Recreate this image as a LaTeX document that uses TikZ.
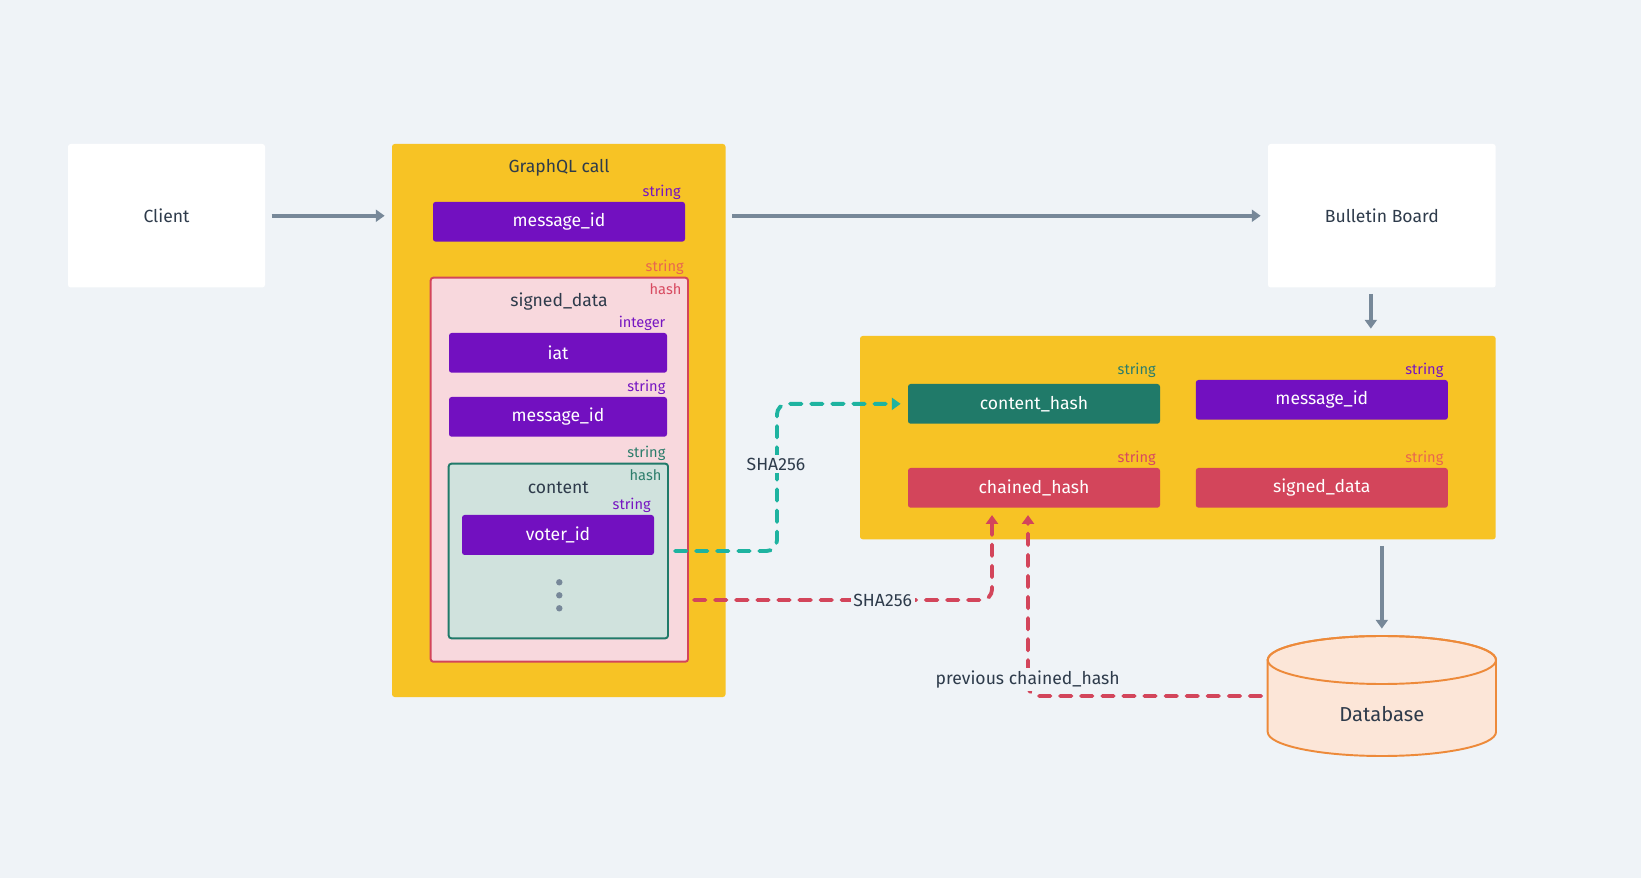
\documentclass[tikz,border=0pt]{standalone}
\usepackage{fontspec}
\setmainfont{Fira Sans}
\usetikzlibrary{arrows.meta}

\definecolor{bgcol}{HTML}{EFF3F7}
\definecolor{gold}{HTML}{F7C325}
\definecolor{ink}{HTML}{2E3B4B}
\definecolor{slate}{HTML}{778899}
\definecolor{fieldpurple}{HTML}{7210C0}
\definecolor{tealbar}{HTML}{207A69}
\definecolor{redbar}{HTML}{D3455B}
\definecolor{signedfill}{HTML}{F8D8DD}
\definecolor{contentfill}{HTML}{D0E2DD}
\definecolor{tealdash}{HTML}{1EB3A0}
\definecolor{dbfill}{HTML}{FCE6D8}
\definecolor{dbline}{HTML}{ED8A3A}
\definecolor{tagpurple}{HTML}{7615C2}
\definecolor{tagorange}{HTML}{E8674F}
\definecolor{tagred}{HTML}{D84A60}
\definecolor{taggreen}{HTML}{2C7D6B}

\newcommand{\pxl}{0.02cm}
\newcommand{\fsmain}{\fontsize{10}{12}\selectfont}
\newcommand{\fstag}{\fontsize{8.3}{10}\selectfont}
\newcommand{\fsdb}{\fontsize{11.5}{14}\selectfont}

\tikzset{
  box/.style={fill=white, rounded corners=1.5pt, inner sep=0pt, text=ink, font=\fsmain},
  panel/.style={fill=gold, rounded corners=1.5pt, inner sep=0pt},
  signedbox/.style={fill=signedfill, draw=redbar, line width=1.1pt, rounded corners=1.5pt, inner sep=0pt},
  contentbox/.style={fill=contentfill, draw=tealbar, line width=1.1pt, rounded corners=1.5pt, inner sep=0pt},
  field/.style={fill=fieldpurple, text=white, rounded corners=1.5pt, inner sep=0pt,
    minimum width=252*\pxl, minimum height=39.7*\pxl, font=\fsmain},
  tag/.style={anchor=east, inner sep=0pt, font=\fstag},
  title/.style={text=ink, inner sep=0pt, font=\fsmain},
  flow/.style={draw=slate, line width=2.2pt, shorten <=3.5pt, shorten >=4pt},
  hashline/.style={line width=2.2pt, dash pattern=on 6.5pt off 5.5pt, line cap=round, rounded corners=6pt},
  hashlabel/.style={fill=bgcol, text=ink, inner sep=1.5pt, font=\fsmain},
}

\begin{document}
\begin{tikzpicture}[x=\pxl, y=-\pxl, >={Triangle[length=5pt,width=6.8pt]}]
  % background
  \fill[bgcol] (0,0) rectangle (1641,878);
  \useasboundingbox (0,0) rectangle (1641,878);

  % -- Client
  \node[box, minimum width=197*\pxl, minimum height=143.5*\pxl] (client) at (166.5,215.75) {Client};

  % -- GraphQL call
  \node[panel, minimum width=333.5*\pxl, minimum height=553*\pxl] (gql) at (558.75,420.5) {};
  \node[title] (gqltitle) at (559,168) {GraphQL call};
  \node[tag, text=tagpurple] (gqlidtype) at (681,192) {string};
  \node[field] (gqlid) at (559,221.75) {message\_id};

  % signed_data
  \node[tag, text=tagorange] (signedtype) at (684,267) {string};
  \node[signedbox, minimum width=257.3*\pxl, minimum height=384*\pxl] (signed) at (559.35,469.7) {};
  \node[tag, text=tagred] (signedhash) at (681.7,289) {hash};
  \node[title] (signedtitle) at (559,302) {signed\_data};
  \node[tag, text=tagpurple] (iattype) at (665.7,323) {integer};
  \node[field, minimum width=218*\pxl] (iat) at (558,352.85) {iat};
  \node[tag, text=tagpurple] (sdidtype) at (665.7,387) {string};
  \node[field, minimum width=218*\pxl] (sdid) at (558,416.85) {message\_id};

  % content
  \node[tag, text=taggreen] (contenttype) at (665.7,453) {string};
  \node[contentbox, minimum width=219.3*\pxl, minimum height=174.6*\pxl] (content) at (558.35,551) {};
  \node[tag, text=taggreen] (contenthash) at (661.7,474.7) {hash};
  \node[title] (contenttitle) at (558.3,488) {content};
  \node[tag, text=tagpurple] (votertype) at (651,505) {string};
  \node[field, minimum width=192*\pxl, minimum height=40*\pxl] (voter) at (558,535) {voter\_id};
  \foreach \y in {582.3,595.3,608.3}
    \fill[slate] (559.3,\y) circle (3.2);

  % -- Bulletin Board
  \node[box, minimum width=227.7*\pxl, minimum height=143.5*\pxl] (bb) at (1381.85,215.75) {Bulletin Board};

  % stored record
  \node[panel, minimum width=635.7*\pxl, minimum height=203.3*\pxl] (store) at (1177.85,437.65) {};
  \node[tag, text=taggreen] (chashtype) at (1156,370) {string};
  \node[field, fill=tealbar] (chash) at (1034,403.85) {content\_hash};
  \node[tag, text=tagpurple] (bbidtype) at (1443.7,370) {string};
  \node[field] (bbid) at (1321.85,399.85) {message\_id};
  \node[tag, text=tagred] (chaintype) at (1156,458) {string};
  \node[field, fill=redbar] (chain) at (1034,487.85) {chained\_hash};
  \node[tag, text=tagorange] (bbsdtype) at (1443.7,458) {string};
  \node[field, fill=redbar] (bbsd) at (1321.85,487.85) {signed\_data};

  % -- Database
  \filldraw[fill=dbfill, draw=dbline, line width=1.1pt]
    (1267.7,660) -- (1267.7,732)
    arc[start angle=180, end angle=0, x radius=114.15, y radius=24]
    -- (1496,660)
    arc[start angle=0, end angle=-180, x radius=114.15, y radius=24] -- cycle;
  \draw[draw=dbline, line width=1.1pt] (1381.85,660) ellipse [x radius=114.15, y radius=24];
  \node[text=ink, font=\fsdb, inner sep=0pt, minimum width=228.3*\pxl, minimum height=120*\pxl] (db) at (1381.85,696) {};
  \node[text=ink, font=\fsdb, inner sep=0pt] (dbtext) at (1381.85,714) {Database};

  % main flow
  \draw[flow, ->] (client.east) -- (client.east -| gql.west);
  \draw[flow, ->] (gql.east |- bb.west) -- (bb.west);
  \draw[flow, ->] ([xshift=-11*\pxl]bb.south) -- ([xshift=-11*\pxl]bb.south |- store.north);
  \draw[flow, ->] (db.north |- store.south) -- (db.north);

  % hashes
  \draw[hashline, tealdash, ->, shorten >=4pt]
    ([xshift=6*\pxl]content.east) -- ++(102,0) |- (chash.west);
  \node[hashlabel] (sha1) at (776,464) {SHA256};

  \coordinate (sdout) at (694,600);
  \draw[hashline, redbar, ->, shorten >=4pt]
    (sdout) -| ([xshift=-42*\pxl]chain.south);
  \node[hashlabel] (sha2) at (882.7,600) {SHA256};

  \draw[hashline, redbar, ->, shorten <=3.5pt, shorten >=4pt]
    (db.west) -| ([xshift=-6*\pxl]chain.south);
  \node[hashlabel] (prevchain) at (1027.7,679.3) {previous chained\_hash};
\end{tikzpicture}
\end{document}
